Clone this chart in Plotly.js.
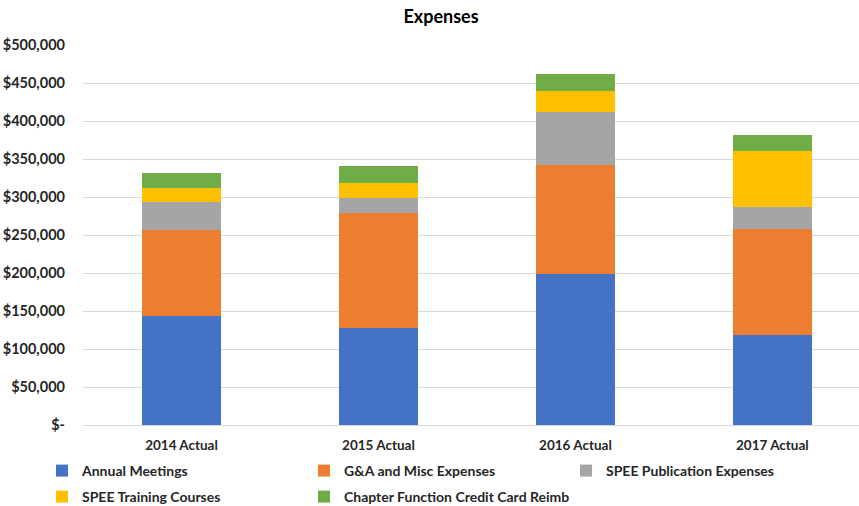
<!DOCTYPE html>
<html>
<head>
<meta charset="utf-8">
<script src="https://cdn.plot.ly/plotly-3.0.1.min.js"></script>
<style>html,body{margin:0;padding:0;background:#fff;}#chart{width:859px;height:506px;}</style>
</head>
<body>
<div id="chart"></div>
<script>
const categories = ["2014 Actual", "2015 Actual", "2016 Actual", "2017 Actual"];
const annualMeetings = [144000, 127000, 199000, 119000];
const gaMisc = [113000, 152000, 143000, 139000];
const publication = [37000, 20000, 70500, 29000];
const training = [17500, 19000, 27000, 73000];
const chapterReimb = [19500, 22500, 22500, 21000];
const seriesNames = ["Annual Meetings", "G&A and Misc Expenses", "SPEE Publication Expenses", "SPEE Training Courses", "Chapter Function Credit Card Reimb"];
const tickVals = [0, 50000, 100000, 150000, 200000, 250000, 300000, 350000, 400000, 450000, 500000];
const tickText = ["$-", "$50,000", "$100,000", "$150,000", "$200,000", "$250,000", "$300,000", "$350,000", "$400,000", "$450,000", "$500,000"];

const colors = ["#4472C4", "#ED7D31", "#A5A5A5", "#FFC000", "#70AD47"];
const legendIds = ["legend", "legend2", "legend3", "legend4", "legend5"];
const legendX = [42, 304, 566, 42, 304];
const legendY = [471, 471, 471, 497, 497];
const allSeries = [annualMeetings, gaMisc, publication, training, chapterReimb];
const FONT = "Lato, 'Open Sans', sans-serif";

const traces = allSeries.map((vals, i) => ({
  type: "bar",
  name: seriesNames[i],
  x: categories,
  y: vals,
  width: 0.402,
  legend: legendIds[i],
  marker: {color: colors[i], line: {width: 0}},
  hoverinfo: "skip"
}));

const layout = {
  width: 859, height: 506,
  barmode: "stack",
  paper_bgcolor: "#ffffff",
  plot_bgcolor: "#ffffff",
  margin: {l: 83, r: 0, t: 45, b: 81, autoexpand: false},
  font: {family: FONT, color: "#262626", size: 13, weight: "bold"},
  title: {text: "<b>Expenses</b>", x: 441/859, xanchor: "center", y: 1 - 17/506, yanchor: "middle",
          font: {family: FONT, size: 18, color: "#000000"}},
  xaxis: {
    type: "category",
    range: [-0.5, 3.44],
    showgrid: false,
    showline: false,
    zeroline: false,
    ticks: "",
    tickfont: {family: FONT, size: 13.5, color: "#262626", weight: "bold"},
    ticklabelstandoff: 10
  },
  yaxis: {
    range: [0, 500000],
    tickvals: tickVals,
    ticktext: tickText,
    showgrid: true,
    gridcolor: "#d9d9d9",
    gridwidth: 1,
    zeroline: true,
    zerolinecolor: "#d9d9d9",
    zerolinewidth: 1,
    showline: false,
    ticks: "",
    tickfont: {family: FONT, size: 14.5, color: "#262626", weight: "bold"},
    ticklabelstandoff: 17
  },
  showlegend: true
};

legendIds.forEach((id, i) => {
  layout[id] = {
    orientation: "h",
    xref: "container", yref: "container",
    x: legendX[i] / 859, xanchor: "left",
    y: 1 - legendY[i] / 506, yanchor: "middle",
    itemwidth: 30,
    font: {family: FONT, size: 14, color: "#262626", weight: "bold"},
    bgcolor: "rgba(0,0,0,0)"
  };
});

Plotly.newPlot("chart", traces, layout, {displayModeBar: false, staticPlot: true});
</script>
</body>
</html>
